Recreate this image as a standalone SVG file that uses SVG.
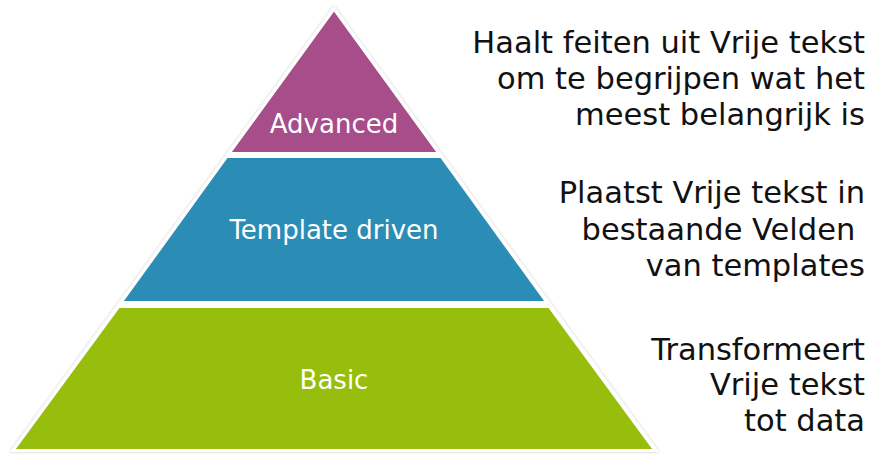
<svg xmlns="http://www.w3.org/2000/svg" width="871" height="454" viewBox="0 0 871 454">
<defs>
<filter id="sh" x="-5%" y="-5%" width="110%" height="110%">
<feGaussianBlur in="SourceAlpha" stdDeviation="1.5"/>
<feComponentTransfer><feFuncA type="linear" slope="0.25"/></feComponentTransfer>
<feMerge><feMergeNode/><feMergeNode in="SourceGraphic"/></feMerge>
</filter>
</defs>
<style>
.lbl{font-family:"DejaVu Sans",Verdana,sans-serif;font-size:26px;fill:#ffffff;text-anchor:middle}
.desc{font-family:"DejaVu Sans",Verdana,sans-serif;font-size:30.5px;fill:#111111;text-anchor:end}
.lay{stroke:#ffffff;stroke-width:2;stroke-linejoin:round}
</style>
<rect width="871" height="454" fill="#ffffff"/>
<g id="pyramid-outline" filter="url(#sh)">
<polygon points="334,6 659,452 10,452" fill="#ffffff"/>
</g>
<g id="advanced">
<polygon class="lay" points="334,10 438,153 230,153" fill="#A64D8A"/>
<text class="lbl" x="334" y="133">Advanced</text>
</g>
<g id="template-driven">
<polygon class="lay" points="227,157 441,157 546,302 122,302" fill="#2B8DB5"/>
<text class="lbl" x="334" y="239">Template driven</text>
</g>
<g id="basic">
<polygon class="lay" points="119,307 549,307 654,450 14,450" fill="#97BE0D"/>
<text class="lbl" x="334" y="389">Basic</text>
</g>
<g id="descriptions">
<text class="desc" x="865" y="53">Haalt feiten uit Vrije tekst</text>
<text class="desc" x="865" y="89">om te begrijpen wat het</text>
<text class="desc" x="865" y="125">meest belangrijk is</text>
<text class="desc" x="865" y="203">Plaatst Vrije tekst in</text>
<text class="desc" x="865" y="240">bestaande Velden&#160;</text>
<text class="desc" x="865" y="276">van templates</text>
<text class="desc" x="865" y="360">Transformeert</text>
<text class="desc" x="865" y="395">Vrije tekst</text>
<text class="desc" x="865" y="431">tot data</text>
</g>
<g id="connectors"/>
</svg>
